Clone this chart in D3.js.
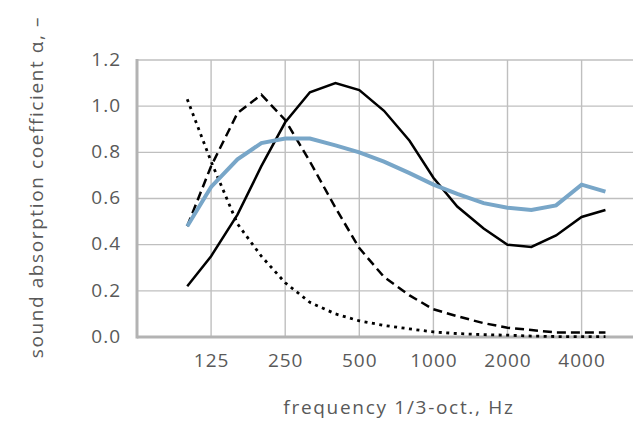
<!DOCTYPE html>
<html>
<head>
<meta charset="utf-8">
<script src="https://cdn.jsdelivr.net/npm/d3@7"></script>
<style>
    body { margin: 0; background: #fff; }
    text { font-family: "Open Sans", sans-serif; fill: #595959; }
</style>
</head>
<body>
<div id="chart"></div>
<script>
/* Third-octave band centre frequencies, Hz. */
let freqs = [100, 125, 160, 200, 250, 315, 400, 500, 630, 800,
             1000, 1250, 1600, 2000, 2500, 3150, 4000, 5000];

/* Sound absorption coefficient of each curve, one value per band. */
let blueCurve   = [0.48, 0.65, 0.77, 0.84, 0.86, 0.86, 0.83, 0.80, 0.76, 0.71,
                   0.66, 0.62, 0.58, 0.56, 0.55, 0.57, 0.66, 0.63];
let solidCurve  = [0.22, 0.35, 0.53, 0.74, 0.93, 1.06, 1.10, 1.07, 0.98, 0.85,
                   0.69, 0.565, 0.47, 0.40, 0.39, 0.44, 0.52, 0.55];
let dashedCurve = [0.48, 0.74, 0.97, 1.05, 0.94, 0.76, 0.56, 0.385, 0.26, 0.18,
                   0.12, 0.09, 0.06, 0.04, 0.03, 0.02, 0.02, 0.02];
let dottedCurve = [1.03, 0.76, 0.49, 0.35, 0.235, 0.15, 0.10, 0.07, 0.05, 0.035,
                   0.022, 0.015, 0.01, 0.008, 0.004, 0.002, 0.002, 0.002];

/* Tick labels. */
let xTicks = [125, 250, 500, 1000, 2000, 4000];
let yTicks = [0, 0.2, 0.4, 0.6, 0.8, 1.0, 1.2];

let dimensions = {width: 633, height: 421};
let plot = {left: 137, right: 633, top: 60, bottom: 337};

/* One octave is 74 px wide; the plot starts three bands below 125 Hz. */
let xscale = d3.scaleLog()
    .domain([62.5, 8000])
    .range([plot.left, plot.left + 7 * 74.1]);
let yscale = d3.scaleLinear()
    .domain([0, 1.2])
    .range([plot.bottom, plot.top]);

let svg = d3.select("#chart").append("svg")
    .attr("width", dimensions.width)
    .attr("height", dimensions.height);

/* Grid lines. */
svg.append("g").selectAll("line")
    .data(yTicks.slice(1))
    .enter().append("line")
        .attr("x1", plot.left).attr("x2", plot.right)
        .attr("y1", d => yscale(d)).attr("y2", d => yscale(d))
        .style("stroke", "#bfbfbf").style("stroke-width", 1.4);
svg.append("g").selectAll("line")
    .data(xTicks)
    .enter().append("line")
        .attr("x1", d => xscale(d)).attr("x2", d => xscale(d))
        .attr("y1", plot.top).attr("y2", plot.bottom)
        .style("stroke", "#bfbfbf").style("stroke-width", 1.4);

/* Axis lines. */
svg.append("line")
    .attr("x1", plot.left).attr("x2", plot.left)
    .attr("y1", plot.top - 1).attr("y2", plot.bottom + 1.5)
    .style("stroke", "#b3b3b3").style("stroke-width", 3);
svg.append("line")
    .attr("x1", plot.left).attr("x2", plot.right)
    .attr("y1", plot.bottom).attr("y2", plot.bottom)
    .style("stroke", "#b3b3b3").style("stroke-width", 3);

/* Tick labels. */
svg.append("g").selectAll("text")
    .data(yTicks)
    .enter().append("text")
        .attr("x", 121)
        .attr("y", d => yscale(d))
        .attr("dy", "0.3em")
        .attr("text-anchor", "end")
        .style("font-size", "19px")
        .style("letter-spacing", "1px")
        .text(d => d.toFixed(1));
svg.append("g").selectAll("text")
    .data(xTicks)
    .enter().append("text")
        .attr("x", d => xscale(d) + 0.5)
        .attr("y", 367)
        .attr("text-anchor", "middle")
        .style("font-size", "19px")
        .style("letter-spacing", "1px")
        .text(d => d);

/* Axis titles. */
svg.append("text")
    .attr("x", 399).attr("y", 414)
    .attr("text-anchor", "middle")
    .style("font-size", "19px")
    .style("letter-spacing", "1.7px")
    .text("frequency 1/3-oct., Hz");
svg.append("text")
    .attr("transform", "translate(43, 187) rotate(-90)")
    .attr("text-anchor", "middle")
    .style("font-size", "19px")
    .style("letter-spacing", "1.6px")
    .text("sound absorption coefficient α, –");

/* Curves. */
let line = d3.line()
    .x((d, i) => xscale(freqs[i]))
    .y(d => yscale(d));

let series = [
    {values: dottedCurve, color: "#000", width: 2.8, dash: "3,4.5"},
    {values: dashedCurve, color: "#000", width: 2.5, dash: "9,5"},
    {values: solidCurve,  color: "#000", width: 2.5, dash: null},
    {values: blueCurve,   color: "#78a6c8", width: 4, dash: null}
];
series.forEach(function(s) {
    svg.append("path")
        .attr("d", line(s.values))
        .attr("fill", "none")
        .attr("stroke", s.color)
        .attr("stroke-width", s.width)
        .attr("stroke-dasharray", s.dash);
});
</script>
</body>
</html>
